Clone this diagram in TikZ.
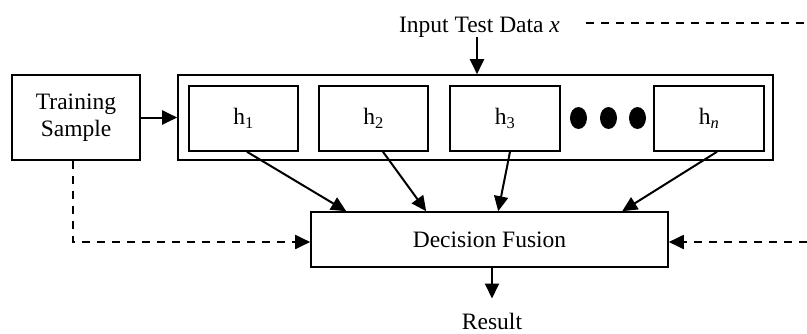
\documentclass[tikz,border=0pt]{standalone}
\usepackage{fontspec}
\setmainfont{Liberation Serif}
\usetikzlibrary{arrows.meta,calc,shapes.geometric}
\begin{document}
\begin{tikzpicture}[x=1pt,y=-1pt,
  lbl/.style={font=\fontsize{23.5}{27}\selectfont, inner sep=0pt},
  box/.style={lbl, draw, line width=1.6pt, align=center},
  hbox/.style={box, minimum width=109pt, minimum height=65pt},
  dot/.style={ellipse, fill=black, inner sep=0pt, minimum width=17pt, minimum height=22pt},
  tip/.style={-{Triangle[length=15pt,width=14pt]}},
  arr/.style={tip, line width=2pt},
  dsh/.style={line width=1.9pt, dash pattern=on 8pt off 7pt}]
\useasboundingbox (0,0) rectangle (807,333);

% learners and their container
\node[box, minimum width=595pt, minimum height=85pt] (outer) at (475.5,117.5) {};
\node[hbox] (h1) at (243.5,118.5) {h\textsubscript{1}};
\node[hbox] (h2) at (373.5,118.5) {h\textsubscript{2}};
\node[hbox, minimum width=110pt] (h3) at (505,118.5) {h\textsubscript{3}};
\node[dot] (d1) at (578.5,118) {};
\node[dot] (d2) at (608.5,118) {};
\node[dot] (d3) at (637.5,118) {};
\node[hbox, minimum width=110pt] (hn) at (709,118.5) {h\textsubscript{\itshape n}};

% training data and fusion
\node[box, minimum width=128pt, minimum height=85pt] (ts) at (76,117.5) {Training\\[-0.5pt]Sample};
\node[box, minimum width=357pt, minimum height=55pt] (df) at (489.5,239.5) {Decision Fusion};

% input and output labels
\node[lbl, anchor=base] (in) at (479.5,32) {Input Test Data \textit{x}};
\node[lbl, anchor=base] (res) at (492,329) {Result};

% solid connectors
\draw[arr] ($(in.south)+(-2.5,0)$) -- ($(outer.north)+(1.5,0)$);
\draw[arr] (ts.east) -- (outer.west);
\draw[arr] ($(h1.south)+(3.5,0)$) -- ($(df.north west)+(36,0)$);
\draw[arr] ($(h2.south)+(9.5,0)$) -- ($(df.north west)+(116,0)$);
\draw[arr] ($(h3.south)+(5,0)$) -- ($(df.north west)+(188,0)$);
\draw[arr] ($(hn.south)+(8,0)$) -- ($(df.north west)+(312,0)$);
\draw[arr] ($(df.south)+(2.5,0)$) -- ($(res.north)+(0,-14)$);

% dashed feedback paths
\coordinate (tl) at (586,23);
\coordinate (tr) at (807,23);
\coordinate (rr) at (807,242);
\draw[dsh, line width=1.5pt] (tl) -- (tr);
\draw[dsh, tip] ($(ts.south)+(-3,0)$) |- ($(df.west)+(0,2.5)$);
\draw[dsh, tip] (rr) -- ($(df.east)+(0,2.5)$);
\end{tikzpicture}
\end{document}
